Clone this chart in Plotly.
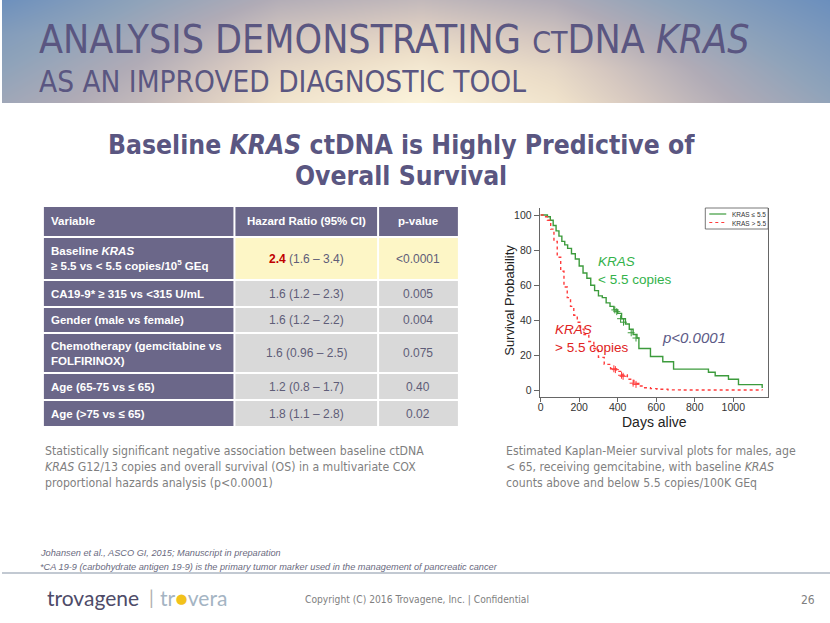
import plotly.graph_objects as go

W, H = 830, 623

# ---------------- data ----------------
green_days = [0, 20, 35, 50, 65, 80, 95, 110, 125, 140, 160, 180, 200, 220, 240, 260, 280, 300,
              320, 340, 360, 380, 400, 420, 440, 460, 480, 500, 510, 570, 634, 690, 871, 906,
              975, 1027, 1140, 1150]
green_surv = [100, 100, 99, 97, 94, 91, 88, 85, 83, 81, 78, 75, 71, 67, 64, 60, 57, 54,
              53, 50, 48, 46, 44, 41, 38, 35, 32, 30, 24, 19.5, 16.5, 12.3, 10.5, 8.5,
              6.5, 3.5, 3.5, 1.5]
red_days = [0, 20, 35, 52, 69, 86, 104, 121, 138, 155, 172, 190, 207, 225, 250, 276, 300, 330,
            363, 390, 415, 450, 484, 510, 535, 570, 604, 660, 725, 1150]
red_surv = [100, 99, 97, 92, 85, 76, 68, 59, 53, 48, 43, 39, 35, 32, 28, 24, 19, 15,
            12.5, 11, 9, 6.5, 4.2, 2.7, 1.7, 1.2, 0.8, 0.5, 0.4, 0.3]
green_cens_days = [385, 395, 415, 430, 470, 495]
green_cens_surv = [46, 45, 41, 39, 33, 30]
red_cens_days = [380, 388, 420, 428, 480, 495]
red_cens_surv = [12.5, 12, 8.8, 8.2, 4.3, 3.6]
legend_names = ["KRAS \u2264 5.5", "KRAS > 5.5"]
x_ticks = [0, 200, 400, 600, 800, 1000]
y_ticks = [0, 20, 40, 60, 80, 100]

tbl_header = ["Variable", "Hazard Ratio (95% CI)", "p-value"]
tbl_variables = ["Baseline <i>KRAS</i><br>\u2265 5.5 vs &lt; 5.5 copies/10<sup>5</sup> GEq",
                 "CA19-9* \u2265 315 vs &lt;315 U/mL",
                 "Gender (male vs female)",
                 "Chemotherapy (gemcitabine vs<br>FOLFIRINOX)",
                 "Age (65-75 vs \u2264 65)",
                 "Age (&gt;75 vs \u2264 65)"]
tbl_hr = ["<span style='color:#c00000'><b>2.4</b></span> (1.6 \u2013 3.4)",
          "1.6 (1.2 \u2013 2.3)", "1.6 (1.2 \u2013 2.2)", "1.6 (0.96 \u2013 2.5)",
          "1.2 (0.8 \u2013 1.7)", "1.8 (1.1 \u2013 2.8)"]
tbl_p = ["&lt;0.0001", "0.005", "0.004", "0.075", "0.40", "0.02"]

# banner glow levels (decorative background), rows top -> bottom
banner_glow = [[0.02, 0.3, 0.52, 0.6, 0.5, 0.25, 0.0],
               [0.2, 0.42, 0.68, 0.78, 0.66, 0.38, 0.12],
               [0.3, 0.52, 0.8, 0.92, 0.8, 0.5, 0.22],
               [0.4, 0.6, 0.88, 1.0, 0.88, 0.58, 0.32]]
banner_cols = [0, 138, 277, 420, 553, 692, 830]
banner_rows = [0, 34, 68, 103]

# ---------------- layout helpers (pixel -> paper) ----------------
def X(px):
    return px / W

def Y(py):
    return 1 - py / H

NARROW = "Liberation Sans Narrow, Arial Narrow, DejaVu Sans Condensed, sans-serif"
ARIAL = "Arial, Liberation Sans, sans-serif"
PURPLE = "#5a5681"

shapes = []
annotations = []

def rect(x0, y0, x1, y1, fill, line=None):
    shapes.append(dict(type="rect", xref="paper", yref="paper", x0=X(x0), x1=X(x1), y0=Y(y1),
                       y1=Y(y0), fillcolor=fill, line=dict(width=0) if line is None else line,
                       layer="below"))

def hline(x0, x1, y, color, width, dash="solid"):
    shapes.append(dict(type="line", xref="paper", yref="paper", x0=X(x0), x1=X(x1), y0=Y(y),
                       y1=Y(y), line=dict(color=color, width=width, dash=dash), layer="above"))

def text(px, py, s, size, color, family=ARIAL, xanchor="left", yanchor="middle", align="left",
         angle=0, height=None):
    d = dict(xref="paper", yref="paper", x=X(px), y=Y(py), text=s, showarrow=False,
             xanchor=xanchor, yanchor=yanchor, align=align, textangle=angle,
             borderpad=0, font=dict(size=size, color=color, family=family))
    if height is not None:
        d["height"] = height
    annotations.append(d)

fig = go.Figure()

# ---------------- banner ----------------
fig.add_trace(go.Heatmap(z=banner_glow, x=banner_cols, y=banner_rows, zsmooth="best",
                         zmin=0, zmax=1, showscale=False, hoverinfo="skip",
                         colorscale=[[0.0, "#6b8fbd"], [0.3, "#8fa3ba"], [0.5, "#b0abb6"],
                                     [0.7, "#d6c8c0"], [0.85, "#eddfc9"], [1.0, "#fcf4dc"]],
                         xaxis="x2", yaxis="y2"))

text(36, 57.5, "<span style='font-size:39px'>ANALYSIS DEMONSTRATING "
     "<span style='font-size:30px'>CT</span>DNA <i>KRAS</i></span><br>"
     "<span style='font-size:29.5px'>AS AN IMPROVED DIAGNOSTIC TOOL</span>",
     30, PURPLE, NARROW)

text(400, 145, "<b>Baseline <i>KRAS</i> ctDNA is Highly Predictive of</b>",
     26.3, PURPLE, NARROW, xanchor="center", align="center", height=28)
text(400, 176, "<b>Overall Survival</b>", 26.3, PURPLE, NARROW, xanchor="center",
     align="center", height=28)

# ---------------- table ----------------
col_edges = [(42, 232), (234, 376), (378, 457)]
head_rows = (207, 236)
row_edges = [(238, 279), (281, 306), (308, 332), (334, 372), (374, 399), (401, 426)]
TBL_PURPLE = "#6b6789"
GRAY = "#d9d9d9"
YELLOW = "#fdf6c6"
TXT = "#5f5d78"

for ci, (c0, c1) in enumerate(col_edges):
    rect(c0, head_rows[0], c1, head_rows[1], TBL_PURPLE)
    ym = (head_rows[0] + head_rows[1]) / 2
    if ci == 0:
        text(c0 + 6, ym, "<b>" + tbl_header[ci] + "</b>", 11.5, "white")
    else:
        text((c0 + c1) / 2, ym, "<b>" + tbl_header[ci] + "</b>", 11.5, "white", xanchor="center")

for ri, (r0, r1) in enumerate(row_edges):
    ym = (r0 + r1) / 2
    rect(col_edges[0][0], r0, col_edges[0][1], r1, TBL_PURPLE)
    fill = YELLOW if ri == 0 else GRAY
    rect(col_edges[1][0], r0, col_edges[1][1], r1, fill)
    rect(col_edges[2][0], r0, col_edges[2][1], r1, fill)
    text(col_edges[0][0] + 6, ym, "<b>" + tbl_variables[ri] + "</b>", 11.5, "white")
    text((col_edges[1][0] + col_edges[1][1]) / 2, ym, tbl_hr[ri], 12, TXT, xanchor="center",
         align="center")
    text((col_edges[2][0] + col_edges[2][1]) / 2, ym, tbl_p[ri], 12, TXT, xanchor="center",
         align="center")

# ---------------- paragraphs ----------------
PG = "#7f7f7f"
text(42, 443, "Statistically significant negative association between baseline ctDNA<br>"
     "<i>KRAS</i> G12/13 copies and overall survival (OS) in a multivariate COX<br>"
     "proportional hazards analysis (p&lt;0.0001)", 12.2, PG, NARROW, yanchor="top")
text(504, 443, "Estimated Kaplan-Meier survival plots for males, age<br>"
     "&lt; 65, receiving gemcitabine, with baseline <i>KRAS</i><br>"
     "counts above and below 5.5 copies/100K GEq", 12.2, PG, NARROW, yanchor="top")

text(37, 552, "<i>Johansen et al., ASCO GI, 2015; Manuscript in preparation</i>", 9.2, "#6a6a80",
     height=11)
text(37, 566, "<i>*CA 19-9 (carbohydrate antigen 19-9) is the primary tumor marker used in the "
     "management of pancreatic cancer</i>", 9.2, "#6a6a80", height=11)

hline(0, W, 573, "#aeb7c3", 1.5)

text(44, 597, "trovagene", 21, "#4e4b68", "Lato, Noto Sans, sans-serif")
text(146, 597, "|", 19, "#b0b0b0", "Lato, sans-serif")
text(157, 597, "tr<span style='color:#f2c21b'>\u25cf</span>vera", 21, "#a4b4c3",
     "Lato, Noto Sans, sans-serif")
text(416, 600, "Copyright (C) 2016 Trovagene, Inc. | Confidential", 10.2, PG, NARROW,
     xanchor="center")
text(808, 600, "26", 12, PG, NARROW, xanchor="center")

# ---------------- KM plot ----------------
GREEN = "#3c9b3c"
RED = "#ff3b3b"
fig.add_trace(go.Scatter(x=green_days, y=green_surv, mode="lines", line_shape="hv",
                         line=dict(color=GREEN, width=1.4), name=legend_names[0],
                         showlegend=False))
fig.add_trace(go.Scatter(x=red_days, y=red_surv, mode="lines", line_shape="hv",
                         line=dict(color=RED, width=1.4, dash="dot"), name=legend_names[1],
                         showlegend=False))
fig.add_trace(go.Scatter(x=green_cens_days, y=green_cens_surv, mode="markers", showlegend=False,
                         marker=dict(symbol="cross-thin", size=5, line=dict(color=GREEN, width=1))))
fig.add_trace(go.Scatter(x=red_cens_days, y=red_cens_surv, mode="markers", showlegend=False,
                         marker=dict(symbol="cross-thin", size=5, line=dict(color=RED, width=1))))

# legend box
rect(705, 208, 768, 229, "white", line=dict(color="#555", width=0.8))
hline(709, 726, 214, GREEN, 1.2)
hline(709, 726, 222.5, RED, 1.2, dash="dot")
text(731, 214, legend_names[0], 6.5, "#333", height=8)
text(731, 222.5, legend_names[1], 6.5, "#333", height=8)

text(596, 270, "<i>KRAS</i><br>&lt; 5.5 copies", 13.5, "#33b24a")
text(553, 338, "<i>KRAS</i><br>&gt; 5.5 copies", 13.5, "#e02222")
text(661, 337, "<i>p&lt;0.0001</i>", 15, "#5c5a86")
text(508, 300, "Survival Probability", 13, "#222222", xanchor="center", angle=-90)
text(654, 422, "Days alive", 14, "#222222", xanchor="center")

fig.update_layout(
    width=W, height=H, margin=dict(l=0, r=0, t=0, b=0),
    paper_bgcolor="white", plot_bgcolor="rgba(0,0,0,0)",
    shapes=shapes, annotations=annotations, showlegend=False,
    xaxis=dict(domain=[X(539), X(768)], range=[-5, 1181], tickvals=x_ticks, ticks="outside",
               ticklen=4, tickcolor="#666", showline=True, linecolor="#666", linewidth=1,
               showgrid=False, zeroline=False, ticklabelstandoff=-3,
               tickfont=dict(size=10.5, family=ARIAL, color="#333")),
    yaxis=dict(domain=[Y(396.7), Y(208)], range=[-3.4, 104], tickvals=y_ticks, ticks="outside",
               ticklen=5, tickcolor="#666", showline=True, linecolor="#666", linewidth=1,
               mirror=True, showgrid=False, zeroline=False,
               tickfont=dict(size=10.5, family=ARIAL, color="#333")),
    xaxis2=dict(domain=[0, 1], range=[0, W], visible=False, fixedrange=True),
    yaxis2=dict(domain=[Y(103), 1], range=[103, 0], visible=False, fixedrange=True),
)

fig.write_html("out.html", config={"displayModeBar": False},
               post_script="document.body.style.margin='0';")
